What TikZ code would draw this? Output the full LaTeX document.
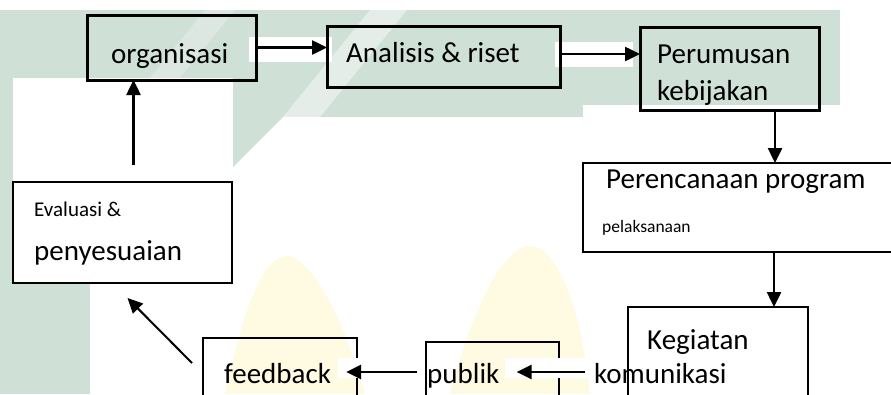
\documentclass[tikz,border=0pt]{standalone}
\usepackage{fontspec}
\setmainfont{Carlito}
\usetikzlibrary{arrows.meta,calc}
\definecolor{wmteal}{RGB}{207,224,214}
\definecolor{wmyellow}{RGB}{255,250,226}
\begin{document}
\begin{tikzpicture}[x=1pt,y=-1pt,
  box/.style={draw, line width=1.5pt, inner sep=0pt, outer sep=0pt},
  thickbox/.style={box, line width=3pt},
  big/.style={font=\fontsize{29}{35}\selectfont, inner sep=0pt, anchor=base west},
  arr/.style={line width=2.5pt, -{Triangle[length=15pt,width=14pt]}}]
\useasboundingbox (0,0) rectangle (891,394);
\clip (0,0) rectangle (891,394);
% watermark background
\fill[wmteal] (0,10) rectangle (840,117);
\fill[wmteal] (0,10) rectangle (90,394);
\fill[wmteal] (233,117) -- (233,167) -- (283,117) -- cycle;
\fill[white,opacity=0.45] (283,117) -- (320,117) -- (407,10) -- (370,10) -- cycle;
\fill[white,opacity=0.25] (150,78) -- (180,78) -- (235,10) -- (205,10) -- cycle;
\fill[white] (13,78) rectangle (233,283);
\fill[white] (583,105) rectangle (891,394);
\fill[wmyellow] (225,394) .. controls (245,300) and (265,256) .. (287,256) .. controls (310,256) and (345,320) .. (365,394) -- cycle;
\fill[wmyellow] (450,394) .. controls (475,300) and (505,246) .. (530,246) .. controls (555,246) and (580,300) .. (590,394) -- cycle;
\fill[white] (249,37) rectangle (332,62);
\fill[white] (555,42) rectangle (633,67);
% boxes
\node[thickbox, minimum width=169pt, minimum height=65pt] (org) at (171.5,47.5) {};
\node[thickbox, minimum width=233pt, minimum height=61pt] (ana) at (443.5,56.5) {};
\node[thickbox, minimum width=179pt, minimum height=83pt] (per) at (729.5,68.5) {};
\node[box, minimum width=327pt, minimum height=89pt] (pren) at (746.5,207.5) {};
\node[box, minimum width=180pt, minimum height=123pt] (keg) at (718,368.5) {};
\node[box, minimum width=133pt, minimum height=88pt] (pub) at (492.5,386) {};
\node[box, minimum width=154pt, minimum height=92pt] (fb) at (280,384) {};
\node[box, minimum width=219pt, minimum height=101pt] (eval) at (122.5,232.5) {};
\fill[white] (338,358) rectangle (424,378);
\fill[white] (505,358) rectangle (593,378);
% texts
\node[big] (orgt) at (111,63) {organisasi};
\node[big] (anat) at (346,62) {Analisis \& riset};
\node[big] (pert1) at (657,63) {Perumusan};
\node[big] (pert2) at (657,100) {kebijakan};
\node[big] (prent1) at (606,188) {Perencanaan program};
\node[inner sep=0pt, anchor=base west, font=\fontsize{17.5}{21}\selectfont] (prent2) at (602,232) {pelaksanaan};
\node[inner sep=0pt, anchor=base west, font=\fontsize{21}{25}\selectfont] (evt1) at (34,216) {Evaluasi \&};
\node[big] (evt2) at (34,260) {penyesuaian};
\node[big] (fbt) at (224,383) {feedback};
\node[big] (pubt) at (427,383) {publik};
\node[big] (komt) at (594,383) {komunikasi};
\node[big] (kegt) at (647,349) {Kegiatan};
% connectors
\draw[arr] (org.east) -- (org.east -| ana.west);
\coordinate (a2s) at ([yshift=2.5pt]ana.east);
\draw[arr] (a2s) -- (a2s -| per.west);
\coordinate (a3s) at ([xshift=-44pt]per.south east);
\draw[arr] (a3s) -- (a3s |- pren.north);
\coordinate (a4e) at ([xshift=-34pt]keg.north east);
\draw[arr] (a4e |- pren.south) -- (a4e);
\coordinate (rowy) at (0,372);
\coordinate (a5s) at ([xshift=-9pt]komt.west);
\coordinate (a5e) at ([xshift=17pt]pubt.east);
\draw[arr] (a5s |- rowy) -- (a5e |- rowy);
\coordinate (a6s) at ([xshift=-10pt]pubt.west);
\coordinate (a6e) at ([xshift=15pt]fbt.east);
\draw[arr] (a6s |- rowy) -- (a6e |- rowy);
\coordinate (a7s) at ([xshift=-11pt,yshift=-25pt]fb.north west);
\coordinate (a7e) at ([xshift=5pt,yshift=-15pt]eval.south);
\draw[arr, line width=2pt] (a7s) -- (a7e);
\coordinate (a8e) at ([xshift=-38pt]org.south);
\coordinate (a8s) at ([yshift=17pt]eval.north);
\draw[arr] (a8s -| a8e) -- (a8e);
\end{tikzpicture}
\end{document}
